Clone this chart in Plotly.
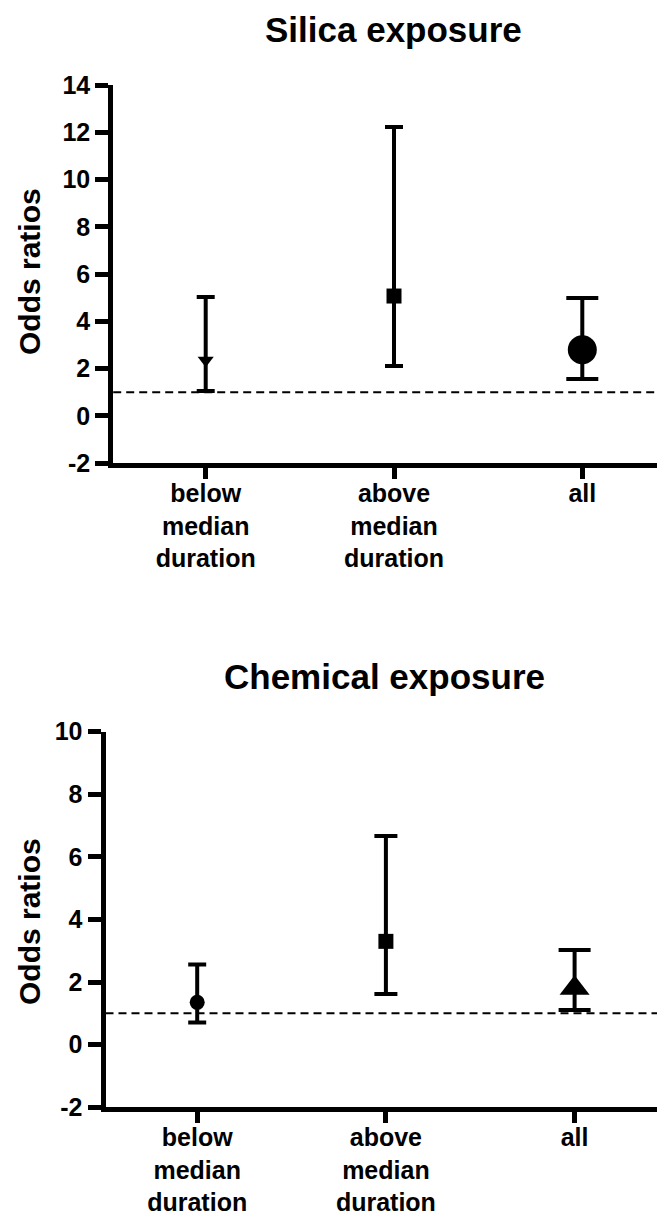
import plotly.graph_objects as go

# ---------------- data ----------------
categories = ["below<br>median<br>duration", "above<br>median<br>duration", "all"]
cat_pos = [0, 1, 2]

silica_or = [2.35, 5.07, 2.80]
silica_lo = [1.05, 2.11, 1.56]
silica_hi = [5.03, 12.22, 4.99]

chem_or = [1.35, 3.30, 1.80]
chem_lo = [0.71, 1.62, 1.11]
chem_hi = [2.56, 6.67, 3.02]

silica_yticks = [-2, 0, 2, 4, 6, 8, 10, 12, 14]
chem_yticks = [-2, 0, 2, 4, 6, 8, 10]
ref_line = 1

titles = ["Silica exposure", "Chemical exposure"]
y_title = "Odds ratios"

# ---------------- styles ----------------
silica_symbols = ["triangle-down", "square", "circle"]
silica_sizes = [14, 15, 29]
silica_caps = [9, 9, 16]
chem_symbols = ["circle", "square", "triangle-up"]
chem_sizes = [15, 15, 26]
chem_caps = [9, 11.5, 16]

FONT = "Liberation Sans, Arial, Helvetica, sans-serif"
BLACK = "#000000"

fig = go.Figure()

panels = [
    dict(orv=silica_or, lo=silica_lo, hi=silica_hi, sym=silica_symbols, size=silica_sizes,
         caps=silica_caps, xa="x", ya="y"),
    dict(orv=chem_or, lo=chem_lo, hi=chem_hi, sym=chem_symbols, size=chem_sizes,
         caps=chem_caps, xa="x2", ya="y2"),
]

for p in panels:
    for i in range(len(cat_pos)):
        fig.add_trace(go.Scatter(
            x=[cat_pos[i]], y=[p["orv"][i]],
            mode="markers",
            marker=dict(symbol=p["sym"][i], size=p["size"][i], color=BLACK,
                        line=dict(width=0)),
            error_y=dict(type="data", symmetric=False,
                         array=[p["hi"][i] - p["orv"][i]],
                         arrayminus=[p["orv"][i] - p["lo"][i]],
                         color=BLACK, thickness=4, width=p["caps"][i]),
            xaxis=p["xa"], yaxis=p["ya"], showlegend=False, hoverinfo="skip",
        ))

W, H = 665, 1219
OFF = 8  # page body margin in the browser
LW = 5   # axis line width


def px_x(v):
    return (v - OFF) / W


def px_y(v):
    return 1 - (v - OFF) / H


# plot areas in screen pixels (axis line centres)
top_left, top_top, top_bottom = 110.7, 85.0, 465.6
bot_left, bot_top, bot_bottom = 103.0, 731.7, 1109.7
top_cat0, bot_cat0 = 205.7, 197.2
top_step, bot_step = 188.3, 188.7

# plotly draws the axis line just outside the domain, so inset the domain by half a line
top_in = top_left + LW / 2
bot_in = bot_left + LW / 2
top_range = [(top_in - top_cat0) / top_step, (W + OFF - top_cat0) / top_step]
bot_range = [(bot_in - bot_cat0) / bot_step, (W + OFF - bot_cat0) / bot_step]

xaxis_common = dict(
    tickmode="array", tickvals=cat_pos, ticktext=categories,
    showline=True, linewidth=LW, linecolor=BLACK,
    ticks="outside", ticklen=11, tickwidth=5, tickcolor=BLACK,
    showgrid=False, zeroline=False, automargin=False,
    ticklabelstandoff=-7,
    tickfont=dict(family=FONT, size=25, color=BLACK, weight="bold"),
    fixedrange=True,
)
yaxis_common = dict(
    showline=True, linewidth=LW, linecolor=BLACK,
    ticks="outside", ticklen=13, tickwidth=5, tickcolor=BLACK,
    showgrid=False, zeroline=False, automargin=False,
    tickfont=dict(family=FONT, size=25, color=BLACK, weight="bold"),
    tickmode="array",
    fixedrange=True,
)

fig.update_layout(
    width=W, height=H,
    margin=dict(l=0, r=0, t=0, b=0, pad=0),
    paper_bgcolor="white", plot_bgcolor="white",
    xaxis=dict(xaxis_common, domain=[px_x(top_in), 1.0], range=top_range, anchor="y"),
    yaxis=dict(yaxis_common, domain=[px_y(top_bottom - LW / 2), px_y(top_top)], range=[-2, 14],
               anchor="x", tickvals=silica_yticks, ticktext=[str(v) for v in silica_yticks]),
    xaxis2=dict(xaxis_common, domain=[px_x(bot_in), 1.0], range=bot_range, anchor="y2"),
    yaxis2=dict(yaxis_common, domain=[px_y(bot_bottom - LW / 2), px_y(bot_top)], range=[-2, 10],
                anchor="x2", tickvals=chem_yticks, ticktext=[str(v) for v in chem_yticks]),
    shapes=[
        dict(type="line", xref="x domain", yref="y", x0=0, x1=1, y0=ref_line, y1=ref_line,
             line=dict(color=BLACK, width=2, dash="8px,5px"), layer="below"),
        dict(type="line", xref="x2 domain", yref="y2", x0=0, x1=1, y0=ref_line, y1=ref_line,
             line=dict(color=BLACK, width=2, dash="8px,5px"), layer="below"),
    ],
    annotations=[
        dict(text=titles[0], x=px_x(393), y=px_y(29), xref="paper", yref="paper",
             xanchor="center", yanchor="middle", showarrow=False,
             font=dict(family=FONT, size=35, color=BLACK, weight="bold")),
        dict(text=titles[1], x=px_x(384), y=px_y(676), xref="paper", yref="paper",
             xanchor="center", yanchor="middle", showarrow=False,
             font=dict(family=FONT, size=35, color=BLACK, weight="bold")),
        dict(text=y_title, x=px_x(29), y=px_y(272), xref="paper", yref="paper",
             xanchor="center", yanchor="middle", showarrow=False, textangle=-90,
             font=dict(family=FONT, size=30, color=BLACK, weight="bold")),
        dict(text=y_title, x=px_x(29), y=px_y(922), xref="paper", yref="paper",
             xanchor="center", yanchor="middle", showarrow=False, textangle=-90,
             font=dict(family=FONT, size=30, color=BLACK, weight="bold")),
    ],
)

fig.write_html("out.html")
